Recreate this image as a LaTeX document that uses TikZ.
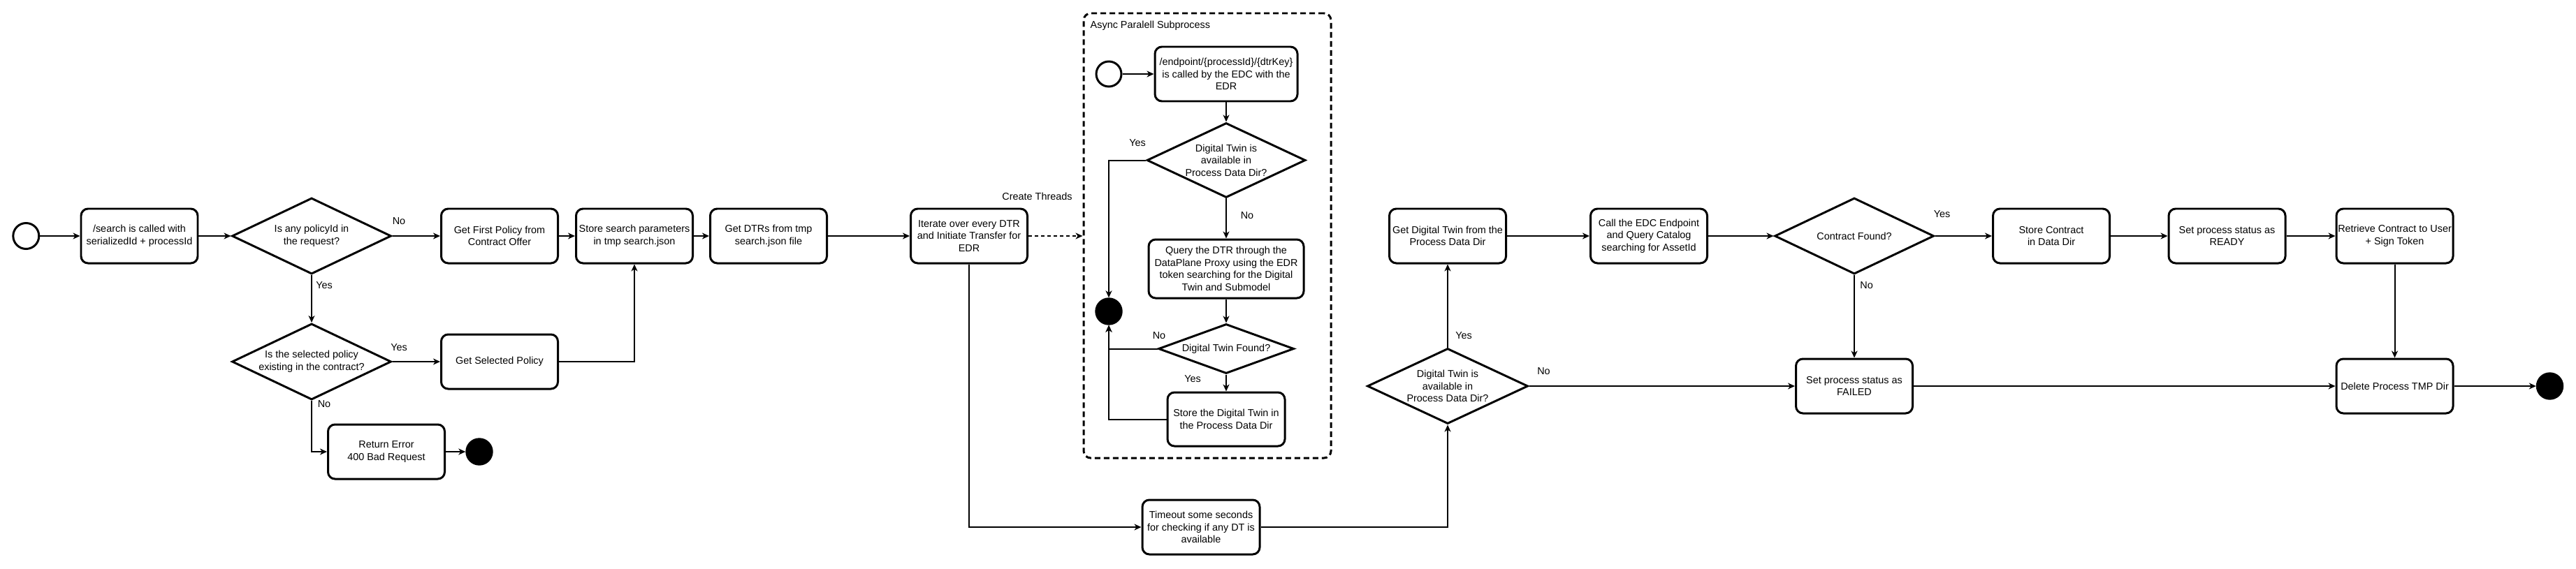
\documentclass[tikz,border=0pt]{standalone}
\usepackage{fontspec}
\setmainfont{Liberation Sans}
\usepackage{tikz}
\usetikzlibrary{shapes.geometric,arrows.meta}
\pgfdeclarelayer{edgelayer}
\pgfdeclarelayer{nodelayer}
\pgfsetlayers{edgelayer,nodelayer,main}
\tikzstyle{none}=[inner sep=0pt]
\tikzstyle{lbl}=[inner sep=0pt,font=\fontsize{4.1}{5}\selectfont]
\tikzstyle{activity}=[rectangle,rounded corners=0.1cm,draw=black,line width=0.85pt,minimum width=1.67cm,minimum height=0.78cm,inner sep=0.5pt,align=center,font=\fontsize{4.1}{5}\selectfont]
\tikzstyle{decision}=[diamond,aspect=2.1,draw=black,line width=0.85pt,minimum width=2.28cm,minimum height=1.09cm,inner sep=0pt,align=center,font=\fontsize{4.1}{5}\selectfont]
\tikzstyle{startstate}=[circle,draw=black,line width=0.85pt,minimum size=0.37cm,inner sep=0pt]
\tikzstyle{endstate}=[circle,fill=black,draw=black,minimum size=0.38cm,inner sep=0pt]
\tikzstyle{subprocess}=[rectangle,rounded corners=0.1cm,draw=black,line width=0.85pt,dash pattern=on 0.08cm off 0.05cm,minimum width=3.54cm,minimum height=6.37cm]
\tikzstyle{flow}=[->,>={Stealth[length=0.1cm,width=0.09cm,inset=0.03cm]},line width=0.57pt]
\tikzstyle{threadflow}=[flow,dash pattern=on 0.05cm off 0.04cm]

\begin{document}
\begin{tikzpicture}
	\useasboundingbox (0,0) rectangle (36.87,-8.14);
	\begin{pgfonlayer}{nodelayer}
		\node [style=startstate] (start) at (0.373, -3.38) {};
		\node [style=activity] (search) at (1.995, -3.38) {/search is called with\\serializedId + processId};
		\node [style=decision] (anypolicy) at (4.46, -3.38) {Is any policyId in\\the request?};
		\node [style=activity] (firstpolicy) at (7.15, -3.38) {Get First Policy from\\Contract Offer};
		\node [style=activity] (storeparams) at (9.08, -3.38) {Store search parameters\\in tmp search.json};
		\node [style=activity] (getdtrs) at (11.00, -3.38) {Get DTRs from tmp\\search.json file};
		\node [style=activity] (iterate) at (13.87, -3.38) {Iterate over every DTR\\and Initiate Transfer for\\EDR};
		\node [style=decision] (selpolicy) at (4.46, -5.18) {Is the selected policy\\existing in the contract?};
		\node [style=activity] (getselected) at (7.15, -5.18) {Get Selected Policy};
		\node [style=activity] (error) at (5.53, -6.47) {Return Error\\400 Bad Request};
		\node [style=endstate] (end1) at (6.86, -6.47) {};
		\node [style=lbl] (nopolicy) at (5.71, -3.17) {No};
		\node [style=lbl] (yespolicy) at (4.64, -4.09) {Yes};
		\node [style=lbl] (yesselected) at (5.71, -4.98) {Yes};
		\node [style=lbl] (noselected) at (4.64, -5.79) {No};
		\node [style=lbl] (threads) at (14.845, -2.81) {Create Threads};

		% async subprocess
		\node [style=subprocess] (async) at (17.28, -3.375) {};
		\node [style=lbl, anchor=west] (asynclbl) at (15.60, -0.37) {Async Paralell Subprocess};
		\node [style=startstate, minimum size=0.36cm] (substart) at (15.87, -1.06) {};
		\node [style=activity, minimum width=2.04cm] (endpoint) at (17.55, -1.06) {/endpoint/\{processId\}/\{dtrKey\}\\is called by the EDC with the\\EDR};
		\node [style=decision, minimum width=2.27cm, minimum height=1.07cm] (dtavail) at (17.55, -2.295) {Digital Twin is\\available in\\Process Data Dir?};
		\node [style=activity, minimum width=2.22cm, minimum height=0.84cm] (query) at (17.55, -3.85) {Query the DTR through the\\DataPlane Proxy using the EDR\\token searching for the Digital\\Twin and Submodel};
		\node [style=endstate] (subend) at (15.87, -4.46) {};
		\node [style=decision, aspect=2.7, minimum width=1.94cm, minimum height=0.71cm] (dtfound) at (17.55, -4.995) {Digital Twin Found?};
		\node [style=activity, minimum width=1.68cm, minimum height=0.77cm] (storedt) at (17.55, -6.005) {Store the Digital Twin in\\the Process Data Dir};
		\node [style=lbl] (yesavail) at (16.28, -2.05) {Yes};
		\node [style=lbl] (noavail) at (17.85, -3.09) {No};
		\node [style=lbl] (nofound) at (16.59, -4.81) {No};
		\node [style=lbl] (yesfound) at (17.07, -5.43) {Yes};

		\node [style=activity, minimum width=1.68cm] (timeout) at (17.19, -7.55) {Timeout some seconds\\for checking if any DT is\\available};
		\node [style=decision, minimum width=2.30cm, minimum height=1.08cm] (dtcheck) at (20.72, -5.53) {Digital Twin is\\available in\\Process Data Dir?};
		\node [style=activity] (getdt) at (20.72, -3.38) {Get Digital Twin from the\\Process Data Dir};
		\node [style=activity] (edc) at (23.60, -3.38) {Call the EDC Endpoint\\and Query Catalog\\searching for AssetId};
		\node [style=decision] (contract) at (26.54, -3.38) {Contract Found?};
		\node [style=activity] (failed) at (26.54, -5.53) {Set process status as\\FAILED};
		\node [style=activity] (storecontract) at (29.36, -3.38) {Store Contract\\in Data Dir};
		\node [style=activity] (ready) at (31.875, -3.38) {Set process status as\\READY};
		\node [style=activity] (retrieve) at (34.275, -3.38) {Retrieve Contract to User\\+ Sign Token};
		\node [style=activity] (delete) at (34.275, -5.53) {Delete Process TMP Dir};
		\node [style=endstate] (end2) at (36.495, -5.53) {};
		\node [style=lbl] (yescheck) at (20.95, -4.81) {Yes};
		\node [style=lbl] (nocheck) at (22.095, -5.32) {No};
		\node [style=lbl] (yescontract) at (27.795, -3.07) {Yes};
		\node [style=lbl] (nocontract) at (26.716, -4.09) {No};
	\end{pgfonlayer}
	\begin{pgfonlayer}{edgelayer}
		\draw [style=flow] (start) to (search);
		\draw [style=flow] (search) to (anypolicy);
		\draw [style=flow] (anypolicy) to (firstpolicy);
		\draw [style=flow] (anypolicy) to (selpolicy);
		\draw [style=flow] (firstpolicy) to (storeparams);
		\draw [style=flow] (selpolicy) to (getselected);
		\draw [style=flow] (getselected) -| (storeparams);
		\draw [style=flow] (selpolicy) |- (error);
		\draw [style=flow] (error) to (end1);
		\draw [style=flow] (storeparams) to (getdtrs);
		\draw [style=flow] (getdtrs) to (iterate);
		\draw [style=threadflow] (iterate) to (iterate -| async.west);
		\draw [style=flow] (iterate) |- (timeout);
		\draw [style=flow] (substart) to (endpoint);
		\draw [style=flow] (endpoint) to (dtavail);
		\draw [style=flow] (dtavail) to (query);
		\draw [style=flow] (dtavail) -| (subend);
		\draw [style=flow] (query) to (dtfound);
		\draw [style=flow] (dtfound) -| (subend);
		\draw [style=flow] (dtfound) to (storedt);
		\draw [style=flow] (storedt) -| (subend);
		\draw [style=flow] (timeout) -| (dtcheck);
		\draw [style=flow] (dtcheck) to (getdt);
		\draw [style=flow] (dtcheck) to (failed);
		\draw [style=flow] (getdt) to (edc);
		\draw [style=flow] (edc) to (contract);
		\draw [style=flow] (contract) to (storecontract);
		\draw [style=flow] (contract) to (failed);
		\draw [style=flow] (storecontract) to (ready);
		\draw [style=flow] (ready) to (retrieve);
		\draw [style=flow] (retrieve) to (delete);
		\draw [style=flow] (failed) to (delete);
		\draw [style=flow] (delete) to (end2);
	\end{pgfonlayer}
\end{tikzpicture}
\end{document}
